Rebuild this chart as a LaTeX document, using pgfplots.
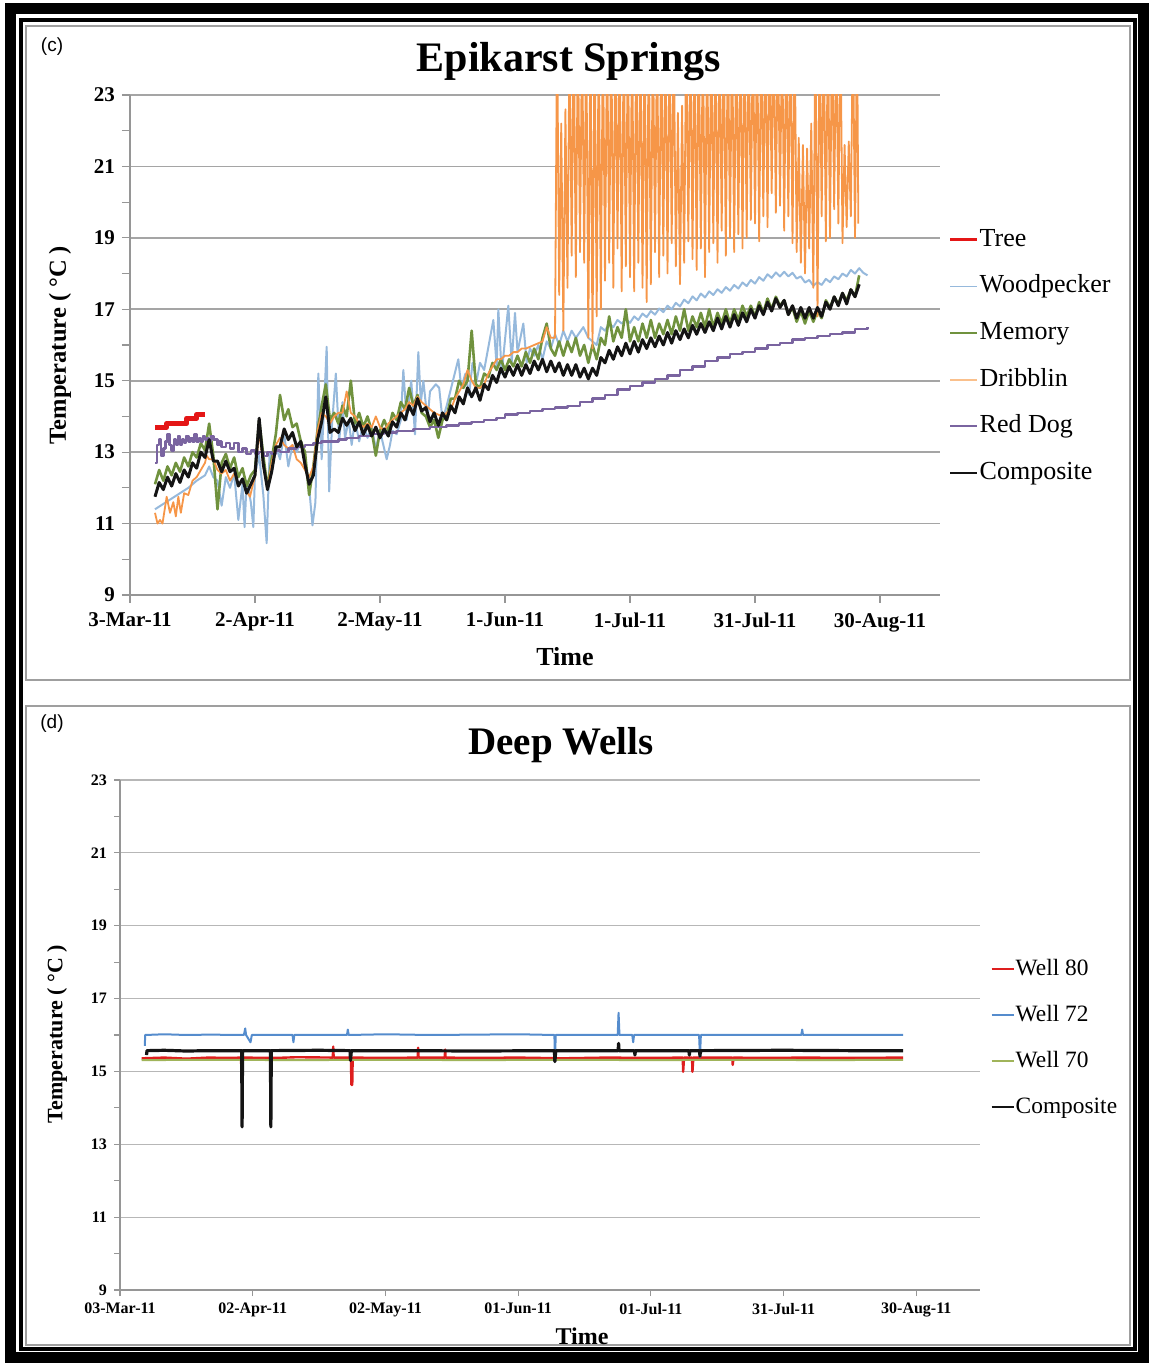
\documentclass[border=0pt]{standalone}
\usepackage{pgfplots}
\pgfplotsset{compat=1.18}
\usepackage{fontspec}
\setmainfont{Liberation Serif}
\newfontfamily\arialfont{Liberation Sans}
\definecolor{treec}{RGB}{228,22,22}
\definecolor{woodc}{RGB}{150,185,220}
\definecolor{memc}{RGB}{112,146,62}
\definecolor{dribc}{RGB}{246,150,72}
\definecolor{dribl}{RGB}{250,192,140}
\definecolor{rdogc}{RGB}{122,100,160}
\definecolor{compc}{RGB}{20,20,20}
\definecolor{w80c}{RGB}{222,30,30}
\definecolor{w72c}{RGB}{85,140,205}
\definecolor{w70c}{RGB}{160,180,90}
\definecolor{axgray}{RGB}{150,150,150}
\definecolor{gridgray}{RGB}{165,165,165}
\pgfplotsset{
 exc/.style={
  scale only axis,
  axis lines=left,
  axis line style={-, draw=axgray, line width=0.8pt},
  ymin=9, ymax=23, ytick={9,11,...,23},
  minor ytick={10,12,...,22},
  xmin=0, xmax=194.4,
  xtick={0,30,60,90,120,150,180},
  ymajorgrids, grid style={draw=gridgray, line width=0.8pt},
  tick align=outside,
  major tick length=4pt, minor tick length=4pt,
  every tick/.style={draw=axgray, line width=0.6pt},
  /pgf/number format/assume math mode=true,
  legend cell align=left,
  legend image code/.code={\draw[#1] (0pt,0pt) -- (13.5pt,0pt);},
  line join=round,
 }
}
\begin{document}
\begin{tikzpicture}
\useasboundingbox (0,0) rectangle (575pt,682pt);
\draw[line width=5.5pt] (5pt,3pt) rectangle (571.75pt,677.75pt);
\draw[line width=2pt] (10.5pt,7.25pt) rectangle (567.25pt,672pt);
\draw[gray!75, line width=1.2pt] (13pt,342pt) rectangle (565pt,669pt);
\draw[gray!75, line width=1.2pt] (13pt,9.5pt) rectangle (565pt,329pt);
% ---------- panel (c)
\node[font=\arialfont\fontsize{9.5}{11}\selectfont] at (26pt,658.5pt) {(c)};
\node[font=\bfseries\fontsize{21}{24}\selectfont] at (284.5pt,651pt) {Epikarst Springs};
\node[font=\bfseries\fontsize{13}{15}\selectfont] at (282.5pt,353.5pt) {Time};
\node[font=\bfseries\fontsize{12.25}{14}\selectfont, rotate=90] at (30pt,509.5pt) {Temperature ( °C )};
\begin{axis}[exc, at={(65pt,384.5pt)}, anchor=south west, width=405pt, height=250pt,
 xticklabels={3-Mar-11,2-Apr-11,2-May-11,1-Jun-11,1-Jul-11,31-Jul-11,30-Aug-11},
 ticklabel style={font=\bfseries\fontsize{10.5}{12}\selectfont},
 xticklabel style={yshift=-1.5pt},
 legend style={draw=none, fill=none, at={(1.01,0.736)}, anchor=north west,
   font=\fontsize{13}{15}\selectfont, row sep=10.8pt, inner sep=0pt,
   nodes={inner sep=0.5pt, text height=9pt, text depth=2.5pt},
   /tikz/every even column/.append style={column sep=1pt}},
]
% Tree
\addplot[forget plot, treec, line width=2.6pt, const plot] coordinates {
(6,13.7)(8.8,13.8)(13.6,13.95)(16,14.05)(18,14.05)};
% Woodpecker
\addplot[forget plot, woodc, line width=1pt] coordinates {
(6,11.4)(8,11.55)(10,11.7)(12,11.85)(14,12.0)(16,12.2)(18,12.35)(19,12.6)(20,12.3)(21,12.2)(22,11.5)(23,12.3)(24,12.0)(25,12.4)(26,11.1)(27,12.1)(27.5,10.9)(28,12.2)(29,11.6)(29.6,10.9)(30,12.4)(31,12.9)(32,11.8)(32.8,10.45)(33.5,13.0)(34,12.4)(35,13.2)(36,12.8)(37,13.5)(38,12.6)(39,13.2)(40,13.0)(41,13.3)(42,12.7)(43,12.0)(43.8,10.95)(44.5,11.6)(45.2,15.2)(46,12.8)(47.2,15.95)(47.8,11.9)(48.5,13.8)(49.4,15.2)(50.2,13.3)(51,14.4)(51.6,13.4)(52.5,13.9)(53.2,13.2)(54,13.9)(55,13.3)(56,13.8)(57,13.4)(58,13.7)(59,13.1)(60,13.6)(61.6,12.8)(62.4,13.2)(63,13.6)(64,13.5)(65,13.9)(65.6,15.3)(66.4,13.9)(67.5,15.0)(68.4,13.5)(69.2,15.8)(69.8,14.4)(70.4,15.0)(71.4,13.9)(72,14.7)(73.4,14.9)(74.2,14.8)(75,13.9)(76,14.3)(77.5,15.0)(78.8,15.6)(79.5,14.8)(80.5,15.2)(81.4,14.6)(82.2,15.5)(83.2,15.0)(84,15.5)(85,15.3)(87.2,16.7)(88,15.4)(88.4,17.0)(89.2,15.2)(90.8,17.1)(91.6,15.5)(92.4,16.9)(93,15.8)(94.4,16.6)(95.2,15.5)(96,15.9)(97,15.7)(98,16.0)(99,15.6)(100,16.1)(101,15.9)(102,16.3)(103,16.0)(104,16.4)(105,16.1)(106,16.4)(107,16.2)(108.8,16.5)(110,16.2)(111,16.1)(112,16.0)(113,16.5)(114,16.4)(115,16.6)(116,16.5)(117,16.7)
(118,16.6)(119,16.72)(120,16.62)(121,16.8)(122,16.7)(123,16.88)(124,16.78)(125,16.95)(126,16.85)(127,17.02)(128,16.92)(129,17.1)(130,17.0)(131,17.18)(132,17.08)(133,17.27)(134,17.17)(135,17.36)(136,17.25)(137,17.44)(138,17.33)(139,17.5)(140,17.4)(141,17.56)(142,17.46)(143,17.62)(144,17.52)(145,17.68)(146,17.58)(147,17.75)(148,17.65)(149,17.82)(150,17.72)(151,17.9)(152,17.8)(153,17.98)(154,17.88)(155,18.03)(156,17.92)(157,18.05)(158,17.92)(159,18.02)(160,17.86)(161,17.92)(162,17.75)(163,17.82)(164,17.66)(165,17.76)(166,17.68)(167,17.85)(168,17.76)(169,17.92)(170,17.84)(171,18.0)(172,17.92)(173,18.1)(174,18.0)(175,18.15)(176,18.02)(177,17.95)};
% Memory
\addplot[forget plot, memc, line width=1.3pt] coordinates {
(6,12.1)(7,12.5)(8,12.2)(9,12.6)(10,12.35)(11,12.7)(12,12.45)(13,12.85)(14,12.6)(15,13.0)(16,12.85)(17,13.25)(18,13.05)(19,13.8)(20,12.9)(21,11.4)(22,12.7)(23,12.95)(24,12.55)(25,12.85)(26,12.3)(27,12.55)(28,12.05)(29,12.35)(30,12.5)(31,13.9)(32,12.9)(33,12.0)(34,12.8)(35,13.5)(36,14.6)(37,13.9)(38,14.2)(39,13.7)(40,13.8)(41,13.3)(42,13.0)(43,11.8)(44,12.6)(45,13.6)(46,14.3)(47,14.9)(48,13.9)(49,14.1)(50,13.8)(51,14.3)(52,14.0)(53,15.0)(54,13.8)(55,14.1)(56,13.7)(57,14.0)(58,13.6)(59,12.9)(60,13.6)(61,13.9)(62,13.6)(63,14.1)(64,13.9)(65,14.4)(66,14.2)(67,14.8)(68,14.3)(69,14.6)(70,14.1)(71,14.0)(72,13.7)(73,13.9)(74,13.4)(75,13.9)(76,14.0)(77,14.5)(78,14.5)(79,15.0)(80,14.8)(81,15.0)(82,16.4)(83,14.9)(84,14.8)(85,15.2)(86,15.1)(87,15.5)(88,15.3)(89,15.6)(90,15.3)(91,15.6)(92,15.4)(93,15.7)(94,15.4)(95,15.8)(96,15.5)(97,15.9)(98,15.6)(99,16.2)(100,16.6)(101,15.9)(102,15.7)(103,16.1)(104,15.7)(105,16.1)(106,15.8)(107,16.2)(108,15.7)(109,16.0)(110,15.5)(111,16.0)(112,15.6)(113,16.2)(114,16.0)(115,16.8)(116,16.1)(117,16.5)(118,16.2)(119,17.0)(120,16.1)(121,16.5)(122,16.1)(123,16.6)(124,16.2)(125,16.7)(126,16.2)(127,16.6)(128,16.3)(129,16.7)(130,16.3)(131,16.8)(132,16.4)(133,17.0)(134,16.4)(135,16.8)(136,16.5)(137,16.9)(138,16.5)(139,17.0)(140,16.5)(141,16.9)(142,16.6)(143,17.0)(144,16.6)(145,17.0)(146,16.7)(147,17.1)(148,16.8)(149,17.1)(150,16.8)(151,17.2)(152,16.9)(153,17.3)(154,17.0)(155,17.35)(156,17.1)(157,17.25)(158,16.85)(159,17.05)(160,16.65)(161,16.95)(162,16.6)(163,16.95)(164,16.65)(165,16.95)(166,16.75)(167,17.25)(168,17.05)(169,17.35)(170,17.15)(171,17.45)(172,17.25)(173,17.55)(174,17.35)(175,17.95)};
% Dribblin
\addplot[forget plot, dribc, line width=0.9pt] coordinates {
(6,11.3)(6.6,11.0)(7.2,11.1)(7.8,11.0)(8.8,11.75)(9.6,11.3)(10.4,11.6)(11,11.2)(11.6,11.75)(12.2,11.3)(13,11.85)(14,11.8)(15,12.2)(16,12.3)(17,12.5)(18,12.7)(18.4,12.9)(19,12.8)(20,12.8)(21,12.5)(22,12.4)(23,12.5)(24,12.2)(25,12.4)(26,12.1)(27,12.2)(28,11.9)(28.8,11.75)(29.5,12.1)(30,12.3)(31,13.6)(32,12.6)(33,12.0)(34,12.7)(35,13.2)(36,13.4)(37,13.2)(38,13.1)(39,13.2)(40,12.8)(41,12.7)(42,12.5)(43,12.3)(44,12.6)(45,13.6)(46,14.1)(47,14.0)(48,13.8)(49,14.0)(50,14.1)(51,14.1)(52,14.7)(53,14.1)(54,14.0)(55,13.8)(56,13.7)(57,13.8)(58,13.7)(59,14.0)(60,13.7)(61,13.6)(62,13.8)(63,13.9)(64,14.0)(65,14.1)(66,14.2)(67,14.4)(68,14.3)(69,14.55)(70,14.4)(71,14.3)(72,14.2)(73,14.1)(74,14.05)(75,14.0)(76,14.1)(77,14.2)(78,14.5)(79,14.7)(80,14.9)(81,15.3)(82,15.0)(83,14.8)(84,14.8)(85,14.9)(86,15.2)(87,15.4)(88,15.6)(89,15.6)(90,15.7)(91,15.7)(92,15.8)(93,15.8)(94,15.9)(95,15.9)(96,15.95)(97,16.0)(98,16.05)(99,16.1)(100,16.5)(101,16.2)
(102,16.2)(102.5,25)(103,17.4)(103.5,22.2)(104,16.4)(104.5,22.6)(105,17.6)(105.5,25)(106,18.5)(106.5,25)(107,17.9)(107.5,25)(108,18.6)(108.5,25)(109,18.3)(109.5,25)(110,16.2)(110.5,25)(111,15.9)(111.5,25)(112,16.8)(112.5,25)(113,17.0)(113.5,25)(114,17.8)(114.5,25)(115,18.3)(115.5,25)(116,17.6)(116.5,25)(117,18.7)(117.5,25)(118,17.5)(118.5,25)(119,18.2)(119.5,25)(120,17.9)(120.5,25)(121,17.5)(121.5,25)(122,18.3)(122.5,25)(123,17.6)(123.5,25)(124,17.2)(124.5,25)(125,17.7)(125.5,25)(126,18.6)(126.5,25)(127,17.9)(127.5,25)(128,18.5)(128.5,25)(129,18.0)(129.5,25)(130,18.85)(130.5,25)(131,18.2)(131.5,22.5)(132,17.7)(132.5,22.7)(133,18.3)(133.5,25)(134,18.9)(134.5,25)(135,18.4)(135.5,25)(136,18.1)(136.5,25)(137,18.7)(137.5,25)(138,17.9)(138.5,25)(139,18.6)(139.5,25)(140,18.85)(140.5,25)(141,18.3)(141.5,25)(142,19.2)(142.5,25)(143,18.5)(143.5,25)(144,19.0)(144.5,25)(145,18.6)(145.5,25)(146,19.1)(146.5,25)(147,18.7)(147.5,25)(148,19.0)(148.5,25)(149,19.5)(149.5,25)(150,19.4)(150.5,25)(151,18.9)(151.5,25)(152,19.6)(152.5,25)(153,19.3)(153.5,25)(154,20.25)(154.5,25)(155,19.7)(155.5,25)(156,19.9)(156.5,25)(157,19.2)(157.5,25)(158,19.6)(158.5,25)(159,18.85)(159.5,25)(160,18.6)(160.5,21.8)(161,18.3)(161.5,21.6)(162,18.0)(162.5,21.5)(163,18.7)(163.5,22.2)(164,17.6)(164.5,25)(165,16.8)(165.5,25)(166,19.6)(166.5,25)(167,18.9)(167.5,25)(168,19.0)(168.5,25)(169,19.8)(169.5,25)(170,19.4)(170.5,25)(171,18.85)(171.5,21.6)(172,19.3)(172.5,21.7)(173,19.6)(173.5,25)(174,19.0)(174.5,25)(174.8,19.4)};
% Red Dog
\addplot[forget plot, rdogc, line width=1.2pt, const plot] coordinates {
(6,12.7)(6.5,13.2)(7,13.35)(7.5,12.9)(8,13.1)(8.5,13.3)(9,13.5)(9.5,13.2)(10,13.05)(10.5,13.35)(11,13.2)(11.5,13.45)(12,13.2)(12.5,13.35)(13,13.25)(13.5,13.45)(14,13.3)(14.5,13.4)(15,13.3)(15.5,13.5)(16,13.3)(16.5,13.4)(17,13.3)(17.5,13.45)(18,13.35)(18.5,13.4)(19,13.3)(19.5,13.45)(20,13.35)(21,13.2)(21.5,13.3)(22,13.15)(23,13.25)(24,13.1)(25,13.25)(26,13.0)(27,13.1)(28,12.95)(29,13.05)(30,12.95)(31,13.0)(32,12.9)(33,13.0)(34,12.95)(35,13.05)(36,13.0)(38,13.1)(40,13.15)(42,13.2)(44,13.25)(46,13.3)(48,13.3)(50,13.35)(52,13.4)(55,13.45)(58,13.5)(61,13.55)(64,13.6)(68,13.65)(72,13.7)(76,13.75)(79,13.8)(82,13.85)(85,13.9)(88,13.95)(90,14.05)(93,14.1)(96,14.15)(99,14.2)(102,14.25)(105,14.3)(108,14.4)(111,14.5)(114,14.6)(117,14.75)(120,14.85)(123,14.95)(126,15.05)(129,15.15)(132,15.3)(135,15.4)(138,15.55)(141,15.65)(144,15.75)(147,15.8)(150,15.9)(153,16.0)(156,16.05)(159,16.15)(162,16.2)(165,16.25)(168,16.3)(171,16.35)(174,16.45)(177,16.5)};
% Composite
\addplot[forget plot, compc, line width=1.5pt] coordinates {
(6,11.75)(7,12.15)(8,11.95)(9,12.3)(10,12.05)(11,12.4)(12,12.15)(13,12.5)(14,12.3)(15,12.7)(16,12.55)(17,13.0)(18,12.85)(19,13.35)(20,12.75)(21,12.75)(22,12.45)(23,12.75)(24,12.45)(25,12.55)(26,12.05)(27,12.25)(28,11.85)(29,12.1)(30,12.35)(31,13.95)(32,12.65)(33,11.95)(34,12.45)(35,13.15)(36,13.15)(37,13.65)(38,13.35)(39,13.55)(40,13.15)(41,13.3)(42,12.65)(43,12.1)(44,12.35)(45,13.35)(46,13.85)(47,14.55)(48,13.55)(49,13.65)(50,13.55)(51,13.95)(52,13.75)(53,13.95)(54,13.6)(55,13.85)(56,13.5)(57,13.75)(58,13.45)(59,13.7)(60,13.4)(61,13.65)(62,13.45)(63,13.85)(64,13.7)(65,14.1)(66,13.9)(67,14.3)(68,14.05)(69,14.5)(70,14.15)(71,14.25)(72,13.85)(73,14.1)(74,13.75)(75,14.1)(76,13.9)(77,14.3)(78,14.1)(79,14.55)(80,14.35)(81,14.8)(82,14.55)(83,14.8)(84,14.45)(85,14.9)(86,14.75)(87,15.15)(88,14.95)(89,15.35)(90,15.1)(91,15.4)(92,15.15)(93,15.45)(94,15.15)(95,15.45)(96,15.2)(97,15.55)(98,15.3)(99,15.6)(100,15.25)(101,15.55)(102,15.25)(103,15.5)(104,15.15)(105,15.45)(106,15.15)(107,15.45)(108,15.1)(109,15.35)(110,15.05)(111,15.35)(112,15.15)(113,15.65)(114,15.5)(115,15.85)(116,15.6)(117,15.95)(118,15.7)(119,16.05)(120,15.75)(121,16.1)(122,15.8)(123,16.15)(124,15.9)(125,16.2)(126,15.95)(127,16.25)(128,16.0)(129,16.35)(130,16.05)(131,16.4)(132,16.15)(133,16.45)(134,16.2)(135,16.55)(136,16.3)(137,16.6)(138,16.35)(139,16.65)(140,16.4)(141,16.75)(142,16.45)(143,16.8)(144,16.5)(145,16.85)(146,16.55)(147,16.9)(148,16.65)(149,17.0)(150,16.75)(151,17.1)(152,16.85)(153,17.2)(154,16.95)(155,17.3)(156,17.05)(157,17.25)(158,16.85)(159,17.1)(160,16.75)(161,17.05)(162,16.75)(163,17.05)(164,16.75)(165,17.05)(166,16.8)(167,17.2)(168,17.0)(169,17.35)(170,17.1)(171,17.45)(172,17.15)(173,17.55)(174,17.35)(175,17.7)};
\addlegendimage{treec, line width=1.6pt}\addlegendentry{Tree}
\addlegendimage{woodc, line width=0.9pt}\addlegendentry{Woodpecker}
\addlegendimage{memc, line width=0.9pt}\addlegendentry{Memory}
\addlegendimage{dribl, line width=0.9pt}\addlegendentry{Dribblin}
\addlegendimage{rdogc, line width=0.9pt}\addlegendentry{Red Dog}
\addlegendimage{compc, line width=0.9pt}\addlegendentry{Composite}
\end{axis}
% ---------- panel (d)
\node[font=\arialfont\fontsize{9.5}{11}\selectfont] at (26pt,320pt) {(d)};
\node[font=\bfseries\fontsize{19.5}{22}\selectfont] at (280.5pt,309.5pt) {Deep Wells};
\node[font=\bfseries\fontsize{12}{14}\selectfont] at (291pt,14pt) {Time};
\node[font=\bfseries\fontsize{11}{13}\selectfont, rotate=90] at (28.5pt,165pt) {Temperature ( °C )};
\begin{axis}[exc, at={(60pt,37pt)}, anchor=south west, width=430pt, height=255pt,
 grid style={draw=gridgray!80, line width=0.6pt},
 axis line style={-, draw=axgray, line width=0.6pt},
 major tick length=3pt, minor tick length=3pt,
 xticklabels={03-Mar-11,02-Apr-11,02-May-11,01-Jun-11,01-Jul-11,31-Jul-11,30-Aug-11},
 ticklabel style={font=\bfseries\fontsize{8}{9}\selectfont},
 legend image code/.code={\draw[#1] (0pt,0pt) -- (11pt,0pt);},
 legend style={draw=none, fill=none, at={(1.012,0.653)}, anchor=north west,
   font=\fontsize{11.7}{14}\selectfont, row sep=11.3pt, inner sep=0pt,
   nodes={inner sep=0.5pt, text height=8.4pt, text depth=2.3pt},
   /tikz/every even column/.append style={column sep=0.5pt}},
]
% Well 80
\addplot[forget plot, w80c, line width=1.2pt] coordinates {
(4.9,15.36)(10,15.38)(15,15.35)(20,15.38)(25,15.37)(27.3,15.38)(27.4,15.2)(27.6,15.38)(35,15.37)(40,15.39)(48.1,15.38)(48.2,15.68)(48.3,15.38)(52.2,15.38)(52.3,14.63)(52.5,14.63)(52.6,15.38)(60,15.37)(67.3,15.38)(67.4,15.65)(67.5,15.38)(73.4,15.38)(73.5,15.6)(73.6,15.38)(80,15.37)(90,15.38)(100,15.36)(110,15.38)(120,15.37)(127.2,15.38)(127.3,14.99)(127.5,15.38)(129.3,15.38)(129.4,14.99)(129.6,15.38)(138.4,15.38)(138.5,15.18)(138.7,15.38)(145,15.37)(155,15.38)(165,15.37)(177,15.38)};
% Well 72
\addplot[forget plot, w72c, line width=1pt] coordinates {
(5.6,15.7)(5.7,16.0)(10,16.02)(15,16.0)(20,16.01)(28,16.0)(28.3,16.18)(28.5,16.0)(29.5,15.8)(29.8,16.0)(39,16.0)(39.2,15.8)(39.4,16.0)(51.3,16.0)(51.5,16.15)(51.7,16.0)(60,16.02)(70,16.0)(80,16.01)(90,16.02)(98.2,16.0)(98.3,15.27)(98.5,16.0)(112.5,16.0)(112.7,16.61)(112.9,16.0)(115.8,16.0)(116,15.8)(116.2,16.0)(130.9,16.0)(131.1,15.4)(131.3,16.0)(154,16.0)(154.2,16.15)(154.4,16.0)(165,16.0)(177,16.0)};
% Well 70
\addplot[forget plot, w70c, line width=1pt] coordinates {
(4.9,15.31)(20,15.32)(40,15.31)(60,15.32)(80,15.31)(100,15.32)(120,15.31)(140,15.32)(160,15.31)(177,15.32)};
% Composite
\addplot[forget plot, compc, line width=1.6pt] coordinates {
(6,15.45)(6.1,15.57)(10,15.58)(15,15.56)(20,15.57)(27.5,15.57)(27.6,13.48)(27.7,15.57)(34.0,15.57)(34.1,13.48)(34.2,15.57)(45,15.58)(52.0,15.57)(52.1,15.3)(52.3,15.57)(65,15.57)(80,15.56)(98.2,15.57)(98.3,15.27)(98.5,15.57)(112.6,15.57)(112.7,15.77)(112.8,15.57)(116.3,15.57)(116.4,15.45)(116.5,15.57)(128.6,15.57)(128.7,15.45)(128.8,15.57)(131.0,15.57)(131.1,15.42)(131.2,15.57)(150,15.58)(165,15.57)(177,15.57)};
\addlegendimage{w80c, line width=1pt}\addlegendentry{Well 80}
\addlegendimage{w72c, line width=1pt}\addlegendentry{Well 72}
\addlegendimage{w70c, line width=1pt}\addlegendentry{Well 70}
\addlegendimage{compc, line width=1pt}\addlegendentry{Composite}
\end{axis}
\end{tikzpicture}
\end{document}
